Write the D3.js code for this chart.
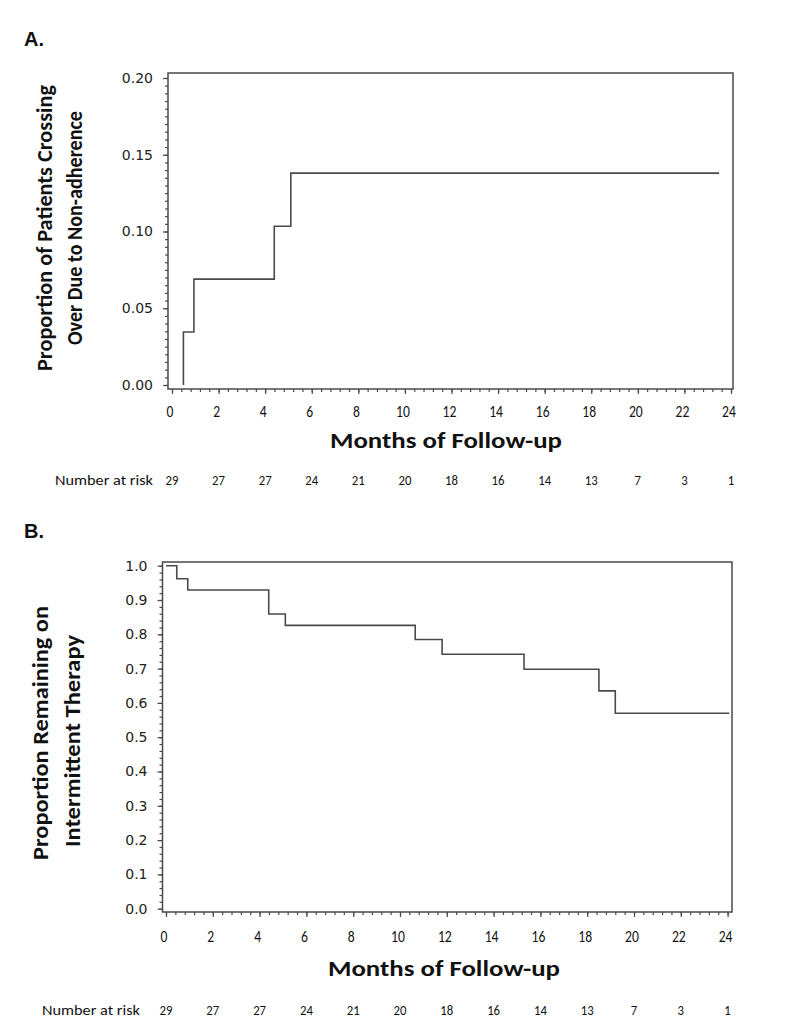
<!DOCTYPE html>
<html>
<head>
<meta charset="utf-8">
<script src="https://cdn.jsdelivr.net/npm/d3@7"></script>
<style>
  html, body { margin: 0; padding: 0; background: #fff; }
  svg { display: block; }
</style>
</head>
<body>
<svg id="chart" width="800" height="1031"></svg>
<script>
// ---------- data ----------
const riskMonths = [0, 2, 4, 6, 8, 10, 12, 14, 16, 18, 20, 22, 24];
const riskA = [29, 27, 27, 24, 21, 20, 18, 16, 14, 13, 7, 3, 1];
const riskB = [29, 27, 27, 24, 21, 20, 18, 16, 14, 13, 7, 3, 1];

// Panel A: cumulative proportion crossing over (time in months, value)
const stepTimesA  = [0.49, 0.49, 0.94, 4.39, 5.10, 23.49];
const stepValuesA = [0.000, 0.0345, 0.069, 0.1034, 0.138, 0.138];

// Panel B: proportion remaining on intermittent therapy
const stepTimesB  = [0, 0.46, 0.93, 4.39, 5.10, 10.65, 11.80, 15.30, 18.50, 19.20, 24.07];
const stepValuesB = [1.000, 0.962, 0.929, 0.859, 0.826, 0.785, 0.742, 0.698, 0.635, 0.570, 0.570];

const yTicksA = [0, 0.05, 0.10, 0.15, 0.20];
const yTicksB = [0, 0.1, 0.2, 0.3, 0.4, 0.5, 0.6, 0.7, 0.8, 0.9, 1.0];

const yTitleA = ["Proportion of Patients Crossing", "Over Due to Non-adherence"];
const yTitleB = ["Proportion Remaining on", "Intermittent Therapy"];
const xTitle = "Months of Follow-up";
const riskLabel = "Number at risk";

// ---------- drawing ----------
const svg = d3.select("#chart");
const lineColor = "#4a4a4a";
const narrowFont = "Carlito, 'Liberation Sans Narrow', 'Open Sans', sans-serif";
const tickFont = "'DejaVu Sans', Verdana, sans-serif";

function panel(cfg) {
  const g = svg.append("g");
  const x = d3.scaleLinear().domain([0, 24]).range([cfg.x0, cfg.x24]);
  const y = d3.scaleLinear().domain(cfg.yDomain).range([cfg.yBottom, cfg.yTop]);

  // panel letter
  g.append("text").attr("x", 24).attr("y", cfg.letterY)
    .attr("font-family", "'Liberation Sans', Arial, sans-serif")
    .attr("font-weight", "bold").attr("font-size", 20).attr("fill", "#111")
    .text(cfg.letter);

  // frame
  g.append("rect")
    .attr("x", cfg.frame[0]).attr("y", cfg.frame[1])
    .attr("width", cfg.frame[2] - cfg.frame[0]).attr("height", cfg.frame[3] - cfg.frame[1])
    .attr("fill", "none").attr("stroke", lineColor).attr("stroke-width", 1.5);

  // x axis (major + minor ticks)
  const xa = g.append("g").attr("transform", `translate(0,${cfg.frame[3]})`)
    .call(d3.axisBottom(x).tickValues(riskMonths).tickSize(5).tickFormat(""));
  const xMinor = d3.range(0, 24.001, 0.4);
  const xm = g.append("g").attr("transform", `translate(0,${cfg.frame[3]})`)
    .call(d3.axisBottom(x).tickValues(xMinor).tickSize(3).tickFormat(""));
  [xa, xm].forEach(s => {
    s.select(".domain").remove();
    s.selectAll("line").attr("stroke", lineColor).attr("stroke-width", 1.2);
  });
  g.append("g").selectAll("text").data(riskMonths).join("text")
    .attr("x", d => x(d) - 2).attr("y", cfg.xLabelY)
    .attr("text-anchor", "middle")
    .attr("font-family", narrowFont).attr("font-size", 16).attr("fill", "#111")
    .attr("transform", d => `translate(${x(d) - 2},${cfg.xLabelY}) scale(0.85,1) translate(${-(x(d) - 2)},${-cfg.xLabelY})`)
    .text(d => d);

  // y axis
  const ya = g.append("g").attr("transform", `translate(${cfg.frame[0]},0)`)
    .call(d3.axisLeft(y).tickValues(cfg.yTicks).tickSize(5).tickFormat(""));
  const yMinor = d3.range(cfg.yDomain[0], cfg.yDomain[1] + 1e-9, cfg.yMinorStep);
  const ym = g.append("g").attr("transform", `translate(${cfg.frame[0]},0)`)
    .call(d3.axisLeft(y).tickValues(yMinor).tickSize(3).tickFormat(""));
  [ya, ym].forEach(s => {
    s.select(".domain").remove();
    s.selectAll("line").attr("stroke", lineColor).attr("stroke-width", 1.2);
  });
  g.append("g").selectAll("text").data(cfg.yTicks).join("text")
    .attr("x", cfg.frame[0] - 15).attr("y", d => y(d)).attr("dy", "0.35em")
    .attr("text-anchor", "end")
    .attr("font-family", tickFont).attr("font-size", 14).attr("fill", "#222")
    .text(d => d3.format(cfg.yFormat)(d));

  // step curve
  const pts = cfg.times.map((t, i) => [t, cfg.values[i]]);
  g.append("path").datum(pts)
    .attr("d", d3.line().x(d => x(d[0])).y(d => y(d[1])).curve(d3.curveStepAfter))
    .attr("fill", "none").attr("stroke", lineColor).attr("stroke-width", 1.6);

  // x title
  g.append("text").attr("x", cfg.xTitleX).attr("y", cfg.xTitleY)
    .attr("text-anchor", "middle")
    .attr("font-family", narrowFont).attr("font-weight", "bold")
    .attr("font-size", 23).attr("fill", "#111")
    .attr("textLength", 232).attr("lengthAdjust", "spacingAndGlyphs")
    .text(xTitle);

  // y title (two lines, rotated)
  cfg.yTitle.forEach((line, i) => {
    g.append("text")
      .attr("transform", `translate(${cfg.yTitleX[i]},${cfg.yTitleCY[i]}) rotate(-90)`)
      .attr("text-anchor", "middle")
      .attr("font-family", narrowFont).attr("font-weight", "bold")
      .attr("font-size", 23).attr("fill", "#111")
      .attr("textLength", cfg.yTitleLen[i]).attr("lengthAdjust", "spacingAndGlyphs")
      .text(line);
  });

  // number at risk
  g.append("text").attr("x", cfg.riskLabelX).attr("y", cfg.riskY)
    .attr("font-family", narrowFont).attr("font-size", 14).attr("fill", "#111")
    .attr("textLength", 98).attr("lengthAdjust", "spacingAndGlyphs")
    .text(riskLabel);
  g.append("g").selectAll("text").data(cfg.risk).join("text")
    .attr("x", (d, i) => x(riskMonths[i])).attr("y", cfg.riskY)
    .attr("text-anchor", "middle")
    .attr("font-family", narrowFont).attr("font-size", 15).attr("fill", "#111")
    .attr("transform", (d, i) => `translate(${x(riskMonths[i])},${cfg.riskY}) scale(0.85,1) translate(${-x(riskMonths[i])},${-cfg.riskY})`)
    .text(d => d);
}

panel({
  letter: "A.", letterY: 46,
  x0: 172, x24: 731, yDomain: [0, 0.2], yBottom: 385, yTop: 78,
  frame: [168, 73, 733, 389],
  yTicks: yTicksA, yMinorStep: 0.005, yFormat: ".2f",
  xLabelY: 417, xTitleX: 446, xTitleY: 448,
  yTitle: yTitleA, yTitleX: [52, 82], yTitleCY: [228, 228], yTitleLen: [286, 234],
  times: stepTimesA, values: stepValuesA,
  risk: riskA, riskLabelX: 55, riskY: 485
});

panel({
  letter: "B.", letterY: 538,
  x0: 166, x24: 727.6, yDomain: [0, 1], yBottom: 908.7, yTop: 565.7,
  frame: [162.5, 562, 732, 912],
  yTicks: yTicksB, yMinorStep: 0.02, yFormat: ".1f",
  xLabelY: 942, xTitleX: 444, xTitleY: 976,
  yTitle: yTitleB, yTitleX: [48, 80], yTitleCY: [733, 741], yTitleLen: [254, 212],
  times: stepTimesB, values: stepValuesB,
  risk: riskB, riskLabelX: 42, riskY: 1015
});
</script>
</body>
</html>
